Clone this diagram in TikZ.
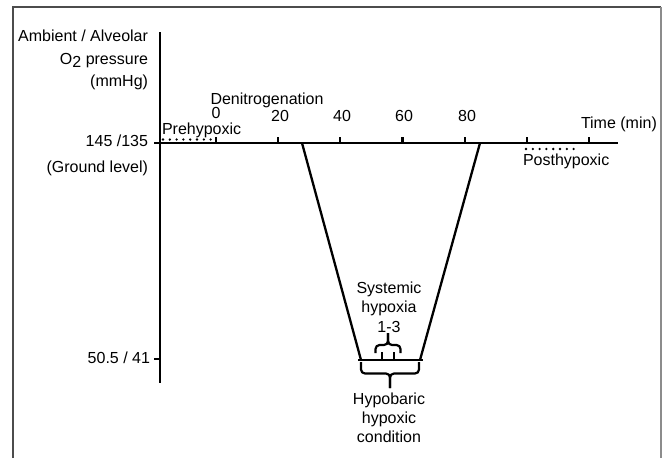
\documentclass[tikz,border=0pt]{standalone}
\usepackage{fontspec}
\setmainfont{Liberation Sans}
\begin{document}
\begin{tikzpicture}[x=1pt,y=-1pt,
  font=\fontsize{16}{19.5}\selectfont,
  lbl/.style={inner sep=0pt, outer sep=0pt},
  axisline/.style={line width=2.7pt},
  tickline/.style={line width=2.2pt},
  slope/.style={line width=2.3pt},
  bracket/.style={line width=2.2pt, rounded corners=4pt},
  dotline/.style={line width=2.6pt, line cap=round, dash pattern=on 0pt off 6.8pt},
  frameA/.style={line width=1.6pt, draw=black!70},
  frameB/.style={line width=2.2pt, draw=black!45}]
\useasboundingbox (0,0) rectangle (663,458);
% frame
\coordinate (fbl) at (13,458);
\coordinate (ftl) at (13,7);
\coordinate (ftr) at (661,7);
\coordinate (fbr) at (661,458);
\draw[frameA] (fbl) -- (ftl) -- (ftr);
\draw[frameB] (ftr) -- (fbr);
% axes
\coordinate (ytop) at (160,32);
\coordinate (ybot) at (160,383);
\coordinate (xleft) at (160,143);
\coordinate (xright) at (618,143);
\draw[axisline] (ytop) -- (ybot);
\draw[axisline] (xleft) -- (xright);
% y ticks
\coordinate (yt1a) at (154,143); \coordinate (yt1b) at (160,143);
\coordinate (yt2a) at (154,359); \coordinate (yt2b) at (160,359);
\draw[tickline] (yt1a) -- (yt1b);
\draw[tickline] (yt2a) -- (yt2b);
% x ticks
\foreach \k in {0,...,6}{
  \draw[tickline] ({216+62.17*\k},143) -- ({216+62.17*\k},136.5);
}
% tick labels
\node[lbl, anchor=base] (t0) at (216,118.5) {0};
\node[lbl, anchor=base] (t20) at (280,121) {20};
\node[lbl, anchor=base] (t40) at (342,121) {40};
\node[lbl, anchor=base] (t60) at (404,121) {60};
\node[lbl, anchor=base] (t80) at (467,121) {80};
\node[lbl, anchor=base west] (time) at (581,128) {Time (min)};
\node[lbl, anchor=base] (denit) at (267,104) {Denitrogenation};
\node[lbl, anchor=base west] (pre) at (162,134.5) {Prehypoxic};
\node[lbl, anchor=base west] (post) at (523,165) {Posthypoxic};
% dotted phases
\coordinate (pre1) at (163,139.5); \coordinate (pre2) at (211,139.5);
\coordinate (post1) at (526,149); \coordinate (post2) at (574,149);
\draw[dotline] (pre1) -- (pre2);
\draw[dotline] (post1) -- (post2);
% y labels
\node[lbl, anchor=base east] (amb) at (148,41) {Ambient / Alveolar};
\node[lbl, anchor=base east] (o2) at (148,64) {O\raisebox{-3.5pt}{2} pressure};
\node[lbl, anchor=base east] (mmhg) at (148,86) {(mmHg)};
\node[lbl, anchor=base east] (p145) at (148,146) {145 /135};
\node[lbl, anchor=base east] (ground) at (148,172) {(Ground level)};
\node[lbl, anchor=base east] (p50) at (150,363) {50.5 / 41};
% trapezoid
\coordinate (tl) at (302,143);
\coordinate (tr) at (480,143);
\coordinate (bl) at (361,360);
\coordinate (br) at (420,360);
\coordinate (bl0) at (358,360);
\coordinate (br0) at (423,360);
\draw[slope] (tl) -- (bl);
\draw[slope] (tr) -- (br);
\draw[slope] (bl0) -- (br0);
% small bracket (systemic hypoxia 1-3)
\coordinate (sb1) at (375.5,353);
\coordinate (sb2) at (400.5,353);
\coordinate (sbtip) at (388,333);
\draw[bracket] (sb1) -- (375.5,345) -- (388,345) -- (sbtip);
\draw[bracket] (sb2) -- (400.5,345) -- (388,345) -- (sbtip);
\coordinate (si1a) at (382,352); \coordinate (si1b) at (382,360);
\coordinate (si2a) at (394,352); \coordinate (si2b) at (394,360);
\draw[tickline] (si1a) -- (si1b);
\draw[tickline] (si2a) -- (si2b);
% big brace (hypobaric hypoxic condition)
\coordinate (bb1) at (361,362);
\coordinate (bb2) at (419,362);
\coordinate (bbtip) at (390,388);
\draw[bracket] (bb1) -- (361,373.5) -- (390,373.5) -- (bbtip);
\draw[bracket] (bb2) -- (419,373.5) -- (390,373.5) -- (bbtip);
% labels in trapezoid
\node[lbl, anchor=base] (sys1) at (389,293) {Systemic};
\node[lbl, anchor=base] (sys2) at (389,312) {hypoxia};
\node[lbl, anchor=base] (sys3) at (389,332) {1-3};
\node[lbl, anchor=base] (hyp1) at (389,404) {Hypobaric};
\node[lbl, anchor=base] (hyp2) at (389,423) {hypoxic};
\node[lbl, anchor=base] (hyp3) at (389,442) {condition};
\end{tikzpicture}
\end{document}
